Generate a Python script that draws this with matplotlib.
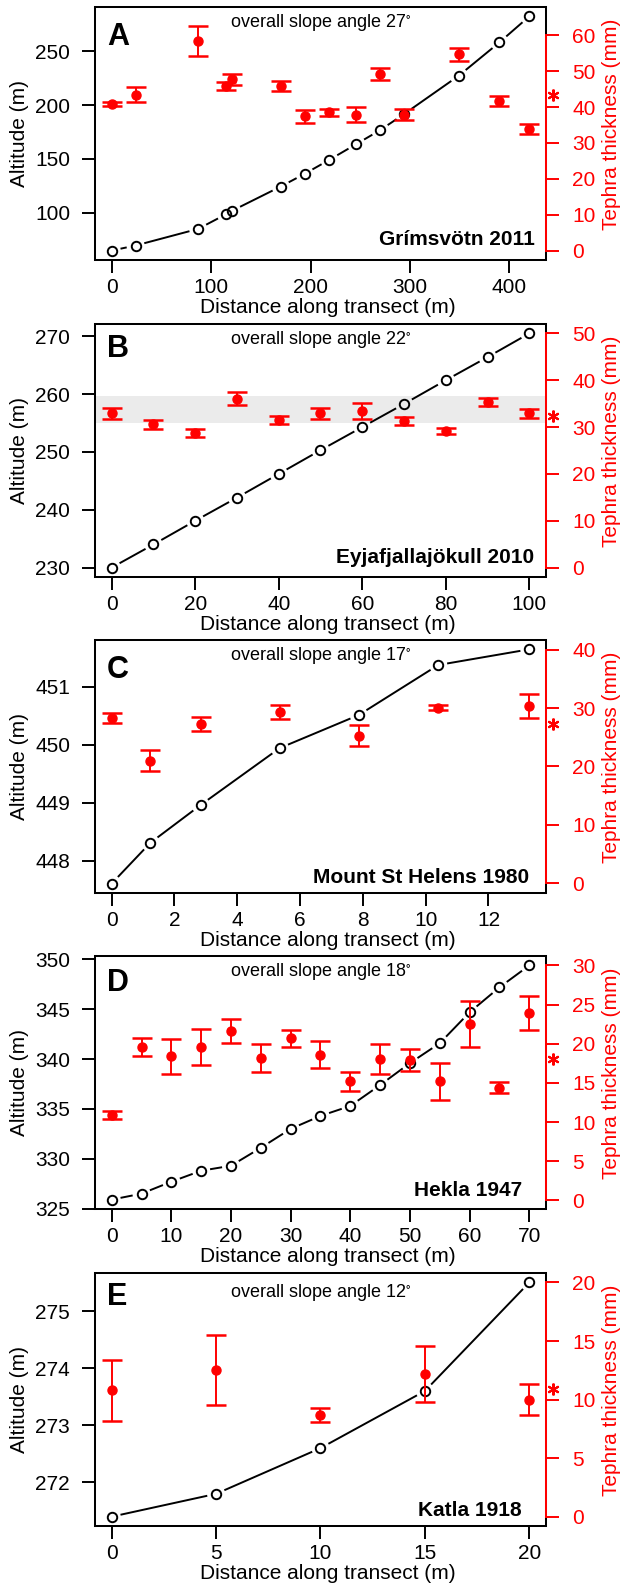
import numpy as np
import matplotlib
matplotlib.use("Agg")
import matplotlib.pyplot as plt
import matplotlib.transforms as mtransforms
from matplotlib.patches import Rectangle

plt.rcParams['font.family'] = ['Liberation Sans', 'DejaVu Sans']
plt.rcParams['mathtext.default'] = 'regular'

# A - Grimsvotn 2011
a_dist = [0, 24, 87, 115, 121, 170, 194, 219, 246, 270, 294, 349, 390, 420]
a_alt = [64.6, 69.3, 84.8, 98.4, 101.6, 124.2, 136.0, 149.1, 163.7, 176.7, 191.6, 227.3, 258.4, 282.6]
a_tephra = [40.8, 43.5, 58.4, 45.9, 47.7, 46.0, 37.5, 38.5, 37.9, 49.2, 37.9, 54.7, 41.7, 33.9]
a_err = [0.5, 2.0, 4.2, 1.2, 1.5, 1.4, 1.8, 1.0, 2.0, 1.6, 1.6, 1.8, 1.5, 1.4]
a_mean = 43.3

# B - Eyjafjallajokull 2010
b_dist = [0, 10, 20, 30, 40, 50, 60, 70, 80, 90, 100]
b_alt = [230.0, 234.0, 238.1, 242.1, 246.2, 250.3, 254.3, 258.3, 262.4, 266.4, 270.5]
b_tephra = [32.9, 30.6, 28.7, 36.1, 31.5, 32.9, 33.4, 31.3, 29.2, 35.4, 32.9]
b_err = [1.1, 1.0, 0.8, 1.3, 0.9, 1.1, 1.7, 0.9, 0.7, 0.8, 0.9]
b_mean = 32.4
b_band = [30.9, 36.6]

# C - Mount St Helens 1980
c_dist = [0, 1.23, 2.83, 5.35, 7.87, 10.4, 13.3]
c_alt = [447.61, 448.31, 448.96, 449.94, 450.51, 451.37, 451.64]
c_tephra = [28.3, 21.0, 27.3, 29.3, 25.3, 30.1, 30.4]
c_err = [0.9, 1.75, 1.2, 1.2, 1.8, 0.5, 2.1]
c_mean = 27.3

# D - Hekla 1947
d_dist = [0, 5, 10, 15, 20, 25, 30, 35, 40, 45, 50, 55, 60, 65, 70]
d_alt = [325.9, 326.5, 327.7, 328.8, 329.3, 331.1, 333.0, 334.3, 335.3, 337.4,
         339.6, 341.6, 344.7, 347.2, 349.4]
d_tephra = [10.9, 19.6, 18.4, 19.6, 21.6, 18.2, 20.7, 18.6, 15.2, 18.1, 17.9, 15.2, 22.5, 14.4, 23.9]
d_err = [0.55, 1.1, 2.25, 2.3, 1.5, 1.8, 1.1, 1.7, 1.2, 1.9, 1.4, 2.35, 2.9, 0.7, 2.2]
d_mean = 18.1

# E - Katla 1918
e_dist = [0, 5, 10, 15, 20]
e_alt = [271.4, 271.8, 272.6, 273.6, 275.5]
e_tephra = [10.8, 12.5, 8.65, 12.2, 10.0]
e_err = [2.6, 3.0, 0.6, 2.4, 1.35]
e_mean = 10.9

letters = ['A', 'B', 'C', 'D', 'E']
names = ['Grímsvötn 2011', 'Eyjafjallajökull 2010', 'Mount St Helens 1980', 'Hekla 1947', 'Katla 1918']
slopes = [27, 22, 17, 18, 12]
xticks = [np.arange(0, 401, 100), np.arange(0, 101, 20), np.arange(0, 13, 2),
          np.arange(0, 71, 10), np.arange(0, 21, 5)]
yticks = [np.arange(100, 251, 50), np.arange(230, 271, 10), np.arange(448, 452, 1),
          np.arange(325, 351, 5), np.arange(272, 276, 1)]
rticks = [np.arange(0, 61, 10), np.arange(0, 51, 10), np.arange(0, 41, 10),
          np.arange(0, 31, 5), np.arange(0, 21, 5)]
rlims = [(-2.6, 67.9), (-2.0, 52.0), (-1.7, 41.7), (-1.1, 31.2), (-0.8, 20.8)]

dists = [a_dist, b_dist, c_dist, d_dist, e_dist]
alts = [a_alt, b_alt, c_alt, d_alt, e_alt]
tephras = [a_tephra, b_tephra, c_tephra, d_tephra, e_tephra]
errs = [a_err, b_err, c_err, d_err, e_err]
means = [a_mean, b_mean, c_mean, d_mean, e_mean]

bottoms = [0.8361, 0.6362, 0.4370, 0.2377, 0.0378]
letter_y = [0.85, 0.87, 0.85, 0.862, 0.874]
name_pos = [(0.976, 0.059), (0.973, 0.055), (0.962, 0.04), (0.947, 0.051), (0.945, 0.04)]
slope_y = [0.938, 0.937, 0.94, 0.937, 0.922]

RED = '#FF0000'
fig = plt.figure(figsize=(6.24, 15.86), dpi=100)


def padded(v):
    lo, hi = min(v), max(v)
    r = hi - lo
    return lo - 0.04 * r, hi + 0.04 * r


def gapped_line(ax, x, y, gap=10):
    # R type="b": line segments stop short of each point
    pts = ax.transData.transform(np.column_stack([x, y]))
    inv = ax.transData.inverted()
    for p, q in zip(pts[:-1], pts[1:]):
        d = q - p
        L = np.hypot(d[0], d[1])
        if L <= 2 * gap:
            continue
        u = d / L
        seg = inv.transform(np.array([p + u * gap, q - u * gap]))
        ax.plot(seg[:, 0], seg[:, 1], color='black', lw=1.4, zorder=2)


for i in range(5):
    ax = fig.add_axes([0.1522, bottoms[i], 0.7228, 0.1595])
    ax2 = ax.twinx()
    ax.set_xlim(padded(dists[i]))
    ax.set_ylim(padded(alts[i]))
    ax2.set_ylim(rlims[i])

    if i == 1:
        band = Rectangle((0, b_band[0]), 1, b_band[1] - b_band[0],
                         transform=mtransforms.blended_transform_factory(ax.transAxes, ax2.transData),
                         facecolor='#EBEBEB', edgecolor='none', zorder=0)
        ax.add_patch(band)

    gapped_line(ax, dists[i], alts[i])
    ax.plot(dists[i], alts[i], 'o', ms=6.8, mfc='none', mec='black', mew=1.4, zorder=3)

    ax2.errorbar(dists[i], tephras[i], yerr=errs[i], fmt='o', color=RED, ms=6.5,
                 elinewidth=1.4, capsize=7.2, capthick=1.8)
    ax2.plot([1.015], [means[i]], marker=(6, 2, 0), ms=8.5, mew=1.5, color=RED,
             transform=mtransforms.blended_transform_factory(ax2.transAxes, ax2.transData),
             clip_on=False)

    ax.set_xticks(xticks[i])
    ax.set_yticks(yticks[i])
    ax2.set_yticks(rticks[i])

    for s in ax.spines.values():
        s.set_linewidth(1.45)
    for s in ['left', 'top', 'bottom']:
        ax2.spines[s].set_visible(False)
    ax2.spines['right'].set_color(RED)
    ax2.spines['right'].set_linewidth(1.45)
    ax2.spines['right'].set_bounds(rticks[i][0], rticks[i][-1])

    ax.tick_params(axis='both', direction='out', length=9.4, width=1.4, labelsize=15)
    ax.tick_params(axis='y', pad=8.5)
    ax.tick_params(axis='x', pad=3.5)
    ax2.tick_params(axis='y', direction='out', length=9.4, width=1.4, labelsize=15,
                    colors=RED, pad=9.5)

    ax.set_ylabel('Altitude (m)', fontsize=15)
    ax.yaxis.set_label_coords(-0.146, 0.5)
    ax.set_xlabel('Distance along transect (m)', fontsize=15)
    ax.xaxis.set_label_coords(0.517, -0.150)
    ax2.set_ylabel('Tephra thickness (mm)', fontsize=15, color=RED)
    ax2.yaxis.set_label_coords(1.124, 0.535)

    ax.text(0.027, letter_y[i], letters[i], transform=ax.transAxes, fontsize=22,
            fontweight='bold', ha='left', va='baseline')
    ax.text(name_pos[i][0], name_pos[i][1], names[i], transform=ax.transAxes,
            fontsize=15, fontweight='bold', ha='right', va='baseline')
    ax.text(0.5, slope_y[i], 'overall slope angle %d$^{\\circ}$' % slopes[i],
            transform=ax.transAxes, fontsize=13, ha='center', va='center')

fig.savefig('out.png', dpi=100)
